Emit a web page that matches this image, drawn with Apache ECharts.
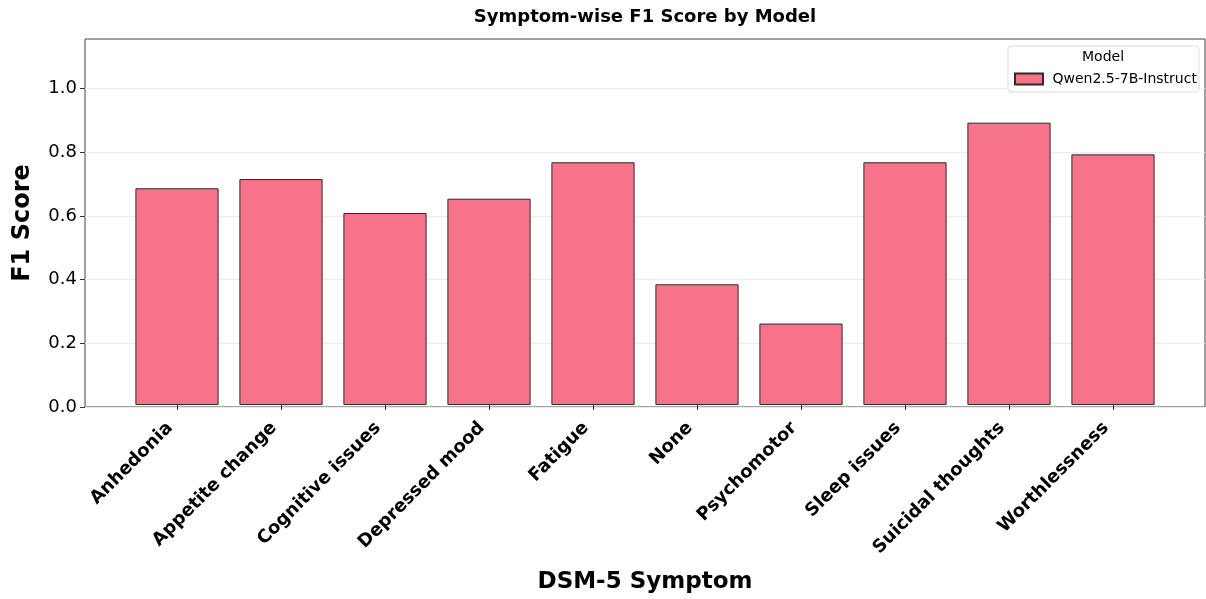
<!DOCTYPE html>
<html>
<head>
<meta charset="utf-8">
<script src="https://cdn.jsdelivr.net/npm/echarts@6/dist/echarts.min.js"></script>
<style>
  html, body { margin: 0; padding: 0; background: #fff; }
  #chart { width: 1206px; height: 599px; }
</style>
</head>
<body>
<div id="chart"></div>
<script>
// symptoms on the x axis
var symptoms = ["Anhedonia", "Appetite change", "Cognitive issues", "Depressed mood", "Fatigue",
                "None", "Psychomotor", "Sleep issues", "Suicidal thoughts", "Worthlessness"];
// F1 per symptom
var f1Scores = [0.684, 0.713, 0.606, 0.651, 0.766, 0.381, 0.257, 0.766, 0.891, 0.791];
var modelName = "Qwen2.5-7B-Instruct";
var yTicks = [0, 0.2, 0.4, 0.6, 0.8, 1.0];

var font = "DejaVu Sans";
var yMax = 1.155;

var myChart = echarts.init(document.getElementById("chart"));

var option = {
    animation: false,
    textStyle: { fontFamily: font },
    graphic: [
        {
            type: "text", x: 645, y: 8,
            style: { text: "Symptom-wise F1 Score by Model", font: "bold 18px '" + font + "'", fill: "#000", textAlign: "center" }
        },
        {
            type: "text", x: 1103, y: 50, z: 100,
            style: { text: "Model", font: "14px '" + font + "'", fill: "#000", textAlign: "center" }
        }
    ],
    legend: {
        data: [modelName],
        left: 1008, top: 46,
        orient: "vertical",
        padding: [26, 2, 6, 6],
        backgroundColor: "#fff",
        borderColor: "#dddddd", borderWidth: 1, borderRadius: 3,
        itemWidth: 28, itemHeight: 11,
        icon: "rect",
        formatter: function (n) { return " " + n; },
        textStyle: { fontSize: 14, color: "#000", fontFamily: font }
    },
    grid: [
        { left: 85, right: 1, top: 39, bottom: 192, show: true, borderColor: "#444", borderWidth: 1, z: 0 },
        { left: 125, width: 1040, top: 39, bottom: 192 }
    ],
    xAxis: [
        { type: "value", gridIndex: 0, show: false, min: 0, max: 1 },
        {
            type: "category", gridIndex: 1, data: symptoms,
            axisLine: { show: false },
            axisTick: { show: true, alignWithLabel: true, length: 5, lineStyle: { color: "#333" } },
            axisLabel: { rotate: 45, fontSize: 18, fontWeight: "bold", color: "#000", margin: 13,
                         padding: [0, 10, 0, 0], interval: 0 },
            name: "DSM-5 Symptom", nameLocation: "middle", nameGap: 166,
            nameTextStyle: { fontSize: 23, fontWeight: "bold", color: "#000" }
        }
    ],
    yAxis: [
        {
            type: "value", gridIndex: 0, min: 0, max: yMax, interval: 0.2,
            axisLine: { show: false },
            axisTick: { show: true, length: 5, customValues: yTicks, lineStyle: { color: "#333" } },
            axisLabel: { fontSize: 18, color: "#000", margin: 8, customValues: yTicks,
                         formatter: function (v) { return v.toFixed(1); } },
            splitLine: { show: true, lineStyle: { color: "#ebebeb", width: 1 } },
            name: "F1 Score", nameLocation: "middle", nameRotate: 90, nameGap: 50,
            nameTextStyle: { fontSize: 24, fontWeight: "bold", color: "#000" }
        },
        { type: "value", gridIndex: 1, min: 0, max: yMax, show: false, splitLine: { show: false } }
    ],
    series: [
        {
            name: modelName,
            type: "bar",
            xAxisIndex: 1, yAxisIndex: 1,
            data: f1Scores,
            barCategoryGap: "20%",
            itemStyle: { color: "#f67389", borderColor: "#2b2b2b", borderWidth: 1 }
        }
    ]
};

myChart.setOption(option);
</script>
</body>
</html>
